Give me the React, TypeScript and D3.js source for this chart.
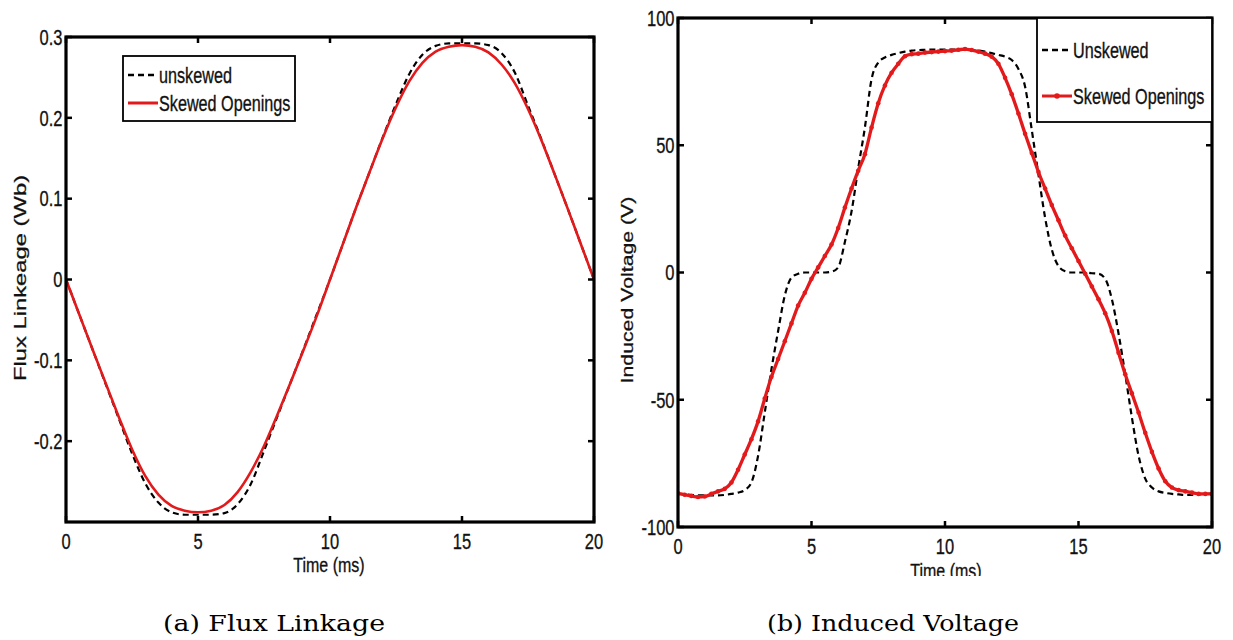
import React from "react";
import * as d3 from "d3";

const FLUX_STEP = 0.5;
const VOLT_STEP = 0.25;

// (a) flux linkage, Wb, t = 0..20 ms every 0.5 ms
const fluxUnskewed = [
  0, -0.043, -0.086, -0.129, -0.172, -0.215, -0.252, -0.276, -0.288, -0.291, -0.291,
  -0.291, -0.289, -0.278, -0.253, -0.212, -0.17, -0.128, -0.086, -0.043, 0,
  0.045, 0.09, 0.133, 0.176, 0.217, 0.254, 0.278, 0.289, 0.292, 0.292,
  0.292, 0.29, 0.28, 0.256, 0.215, 0.174, 0.131, 0.088, 0.044, 0,
];
const fluxSkewed = [
  0, -0.043, -0.086, -0.128, -0.17, -0.21, -0.243, -0.266, -0.28, -0.286, -0.288,
  -0.286, -0.279, -0.263, -0.238, -0.206, -0.168, -0.128, -0.087, -0.045, 0,
  0.045, 0.09, 0.133, 0.175, 0.213, 0.245, 0.268, 0.282, 0.288, 0.29,
  0.288, 0.281, 0.266, 0.243, 0.211, 0.173, 0.131, 0.088, 0.044, 0,
];

// (b) induced voltage, V, t = 0..20 ms every 0.25 ms
const voltUnskewed = [
  -87, -87.2, -87.4, -87.6, -87.6, -87.6, -87.6, -87.4, -87, -86.5, -85.5, -82.5,
  -72, -55, -38, -23, -9, -2, -0.5, 0, 0, 0, 0, 0.3,
  2, 12, 24, 41, 57, 76, 82.5, 84.5, 85.5, 86.2, 86.8, 87.2,
  87.4, 87.5, 87.6, 87.6, 87.6, 87.6, 87.6, 87.5, 87.4, 87.2, 86.8, 86.2,
  85.5, 84.8, 83.5, 80, 73, 56, 38.5, 21.5, 9, 2.5, 0.5, 0,
  0, 0, -0.3, -0.5, -2.5, -10.5, -24, -40, -57, -72, -81, -84.5,
  -86, -86.6, -87, -87.2, -87.4, -87.4, -87.2, -87, -87,
];
const voltSkewed = [
  -86.8, -87.3, -87.8, -88.2, -88, -87, -86, -85, -82.5, -77.5, -71.5, -65.5,
  -58.5, -49.5, -41, -34, -27, -20, -13, -8, -2.5, 2, 6.5, 11,
  17.5, 25.5, 33, 40, 46.5, 57, 66.5, 73.5, 78.5, 82, 85, 85.8,
  86, 86.4, 86.6, 86.8, 87, 87.2, 87.5, 87.8, 87.4, 86.8, 86, 84.8,
  82, 76.5, 70, 62.5, 54.5, 47, 39.5, 33, 26.5, 20.5, 14.5, 9.5,
  4.5, -0.5, -5.5, -10.5, -16, -23, -31.5, -40, -47.5, -55, -63, -70.5,
  -77, -82, -84.5, -85.5, -86, -86.5, -87, -87, -87,
];

const timeTicks = [0, 5, 10, 15, 20];
const fluxTicks = [-0.2, -0.1, 0, 0.1, 0.2, 0.3];
const fluxTickLabels = ["-0.2", "-0.1", "0", "0.1", "0.2", "0.3"];
const voltTicks = [-100, -50, 0, 50, 100];
const voltTickLabels = ["-100", "-50", "0", "50", "100"];
const legendA = ["unskewed", "Skewed Openings"];
const legendB = ["Unskewed", "Skewed Openings"];

const FONT = "'Liberation Sans', Arial, Helvetica, sans-serif";
const SERIF = "'DejaVu Serif', 'Liberation Serif', serif";
const RED = "#e31a1c";
const STRETCH = 1.32; // the figure was scaled taller than wide

const toPoints = (vals: number[], step: number) => vals.map((v, i) => [i * step, v] as [number, number]);

// text that carries the vertical stretch of the original picture
const Txt = ({ x, y, size, anchor = "start", rot = false, k = STRETCH, dy = 0, children }: any) => (
  <text
    transform={`translate(${x},${y})${rot ? " rotate(-90)" : ""} scale(${rot ? k : 1},${rot ? 1 : k})`}
    y={dy}
    textAnchor={anchor}
    fontSize={size}
    fontFamily={FONT}
    fill="#111"
    stroke="#111"
    strokeWidth={0.25}
  >
    {children}
  </text>
);

const Panel = ({ id, box, yDomain, yTicks, yLabels, dashed, solid, step, markers, legend, legendBox, yTitle, yTitlePos, xTitlePos, xClip }: any) => {
  const x = d3.scaleLinear().domain([0, 20]).range([box.left, box.right]);
  const y = d3.scaleLinear().domain(yDomain).range([box.bottom, box.top]);
  const line = d3
    .line<[number, number]>()
    .x((d) => x(d[0]))
    .y((d) => y(d[1]))
    .curve(d3.curveMonotoneX);
  const dashPts = toPoints(dashed, step);
  const solidPts = toPoints(solid, step);
  const tl = 6;

  return (
    <g>
      <defs>
        <clipPath id={`plot-${id}`}>
          <rect x={box.left} y={box.top} width={box.right - box.left} height={box.bottom - box.top} />
        </clipPath>
        {xClip && (
          <clipPath id={`xt-${id}`}>
            <rect x={box.left} y={box.bottom + 30} width={box.right - box.left} height={xClip - box.bottom - 30} />
          </clipPath>
        )}
      </defs>
      <rect x={box.left} y={box.top} width={box.right - box.left} height={box.bottom - box.top} fill="#fff" />

      <g clipPath={`url(#plot-${id})`}>
        <path d={line(dashPts) || ""} fill="none" stroke="#000" strokeWidth={2.2} strokeDasharray="6,4" />
        <path d={line(solidPts) || ""} fill="none" stroke={RED} strokeWidth={markers ? 3.3 : 2.6} />
        {markers &&
          solidPts.map((d, i) => <circle key={i} cx={x(d[0])} cy={y(d[1])} r={2.3} fill={RED} />)}
      </g>

      {/* ticks, inward on all four sides */}
      <g stroke="#000" strokeWidth={2.5}>
        {timeTicks.map((t) => (
          <g key={`xt${t}`}>
            <line x1={x(t)} x2={x(t)} y1={box.bottom} y2={box.bottom - tl} />
            <line x1={x(t)} x2={x(t)} y1={box.top} y2={box.top + tl} />
          </g>
        ))}
        {yTicks.map((v: number) => (
          <g key={`yt${v}`}>
            <line x1={box.left} x2={box.left + tl} y1={y(v)} y2={y(v)} />
            <line x1={box.right} x2={box.right - tl} y1={y(v)} y2={y(v)} />
          </g>
        ))}
      </g>
      <rect
        x={box.left}
        y={box.top}
        width={box.right - box.left}
        height={box.bottom - box.top}
        fill="none"
        stroke="#000"
        strokeWidth={3.2}
      />

      {timeTicks.map((t) => (
        <Txt key={`xl${t}`} x={x(t)} y={box.bottom + 27} size={16.5} anchor="middle">
          {t}
        </Txt>
      ))}
      {yTicks.map((v: number, i: number) => (
        <Txt key={`yl${v}`} x={box.left - 3.5} y={y(v)} size={16.5} anchor="end" dy={5.9}>
          {yLabels[i]}
        </Txt>
      ))}

      <g clipPath={xClip ? `url(#xt-${id})` : undefined}>
        <Txt x={xTitlePos[0]} y={xTitlePos[1]} size={16} anchor="middle">
          Time (ms)
        </Txt>
      </g>
      <Txt x={yTitlePos[0]} y={yTitlePos[1]} size={yTitlePos[2]} anchor="middle" rot k={yTitlePos[3]}>
        {yTitle}
      </Txt>

      {/* legend */}
      <g>
        <rect
          x={legendBox.x}
          y={legendBox.y}
          width={legendBox.w}
          height={legendBox.h}
          fill="#fff"
          stroke="#000"
          strokeWidth={1.8}
        />
        <line
          x1={legendBox.x + 5}
          x2={legendBox.x + 35}
          y1={legendBox.rows[0]}
          y2={legendBox.rows[0]}
          stroke="#000"
          strokeWidth={2.4}
          strokeDasharray="6,4"
        />
        <line
          x1={legendBox.x + 5}
          x2={legendBox.x + 35}
          y1={legendBox.rows[1]}
          y2={legendBox.rows[1]}
          stroke={RED}
          strokeWidth={3}
        />
        {markers && <circle cx={legendBox.x + 20} cy={legendBox.rows[1]} r={2.8} fill={RED} />}
        {legend.map((s: string, i: number) => (
          <Txt key={s} x={legendBox.x + 36} y={legendBox.rows[i]} size={16.2} dy={5.9} k={1.36}>
            {s}
          </Txt>
        ))}
      </g>
    </g>
  );
};

export default function App() {
  return (
    <svg width={1233} height={640} style={{ position: "absolute", left: 0, top: 0, background: "#fff" }}>
      <rect width={1233} height={640} fill="#fff" />
      <Panel
        id="a"
        box={{ left: 66, right: 594, top: 37, bottom: 522 }}
        yDomain={[-0.3, 0.3]}
        yTicks={fluxTicks}
        yLabels={fluxTickLabels}
        dashed={fluxUnskewed}
        solid={fluxSkewed}
        step={FLUX_STEP}
        markers={false}
        legend={legendA}
        legendBox={{ x: 123, y: 56, w: 172, h: 65, rows: [75, 103] }}
        yTitle="Flux Linkeage (Wb)"
        yTitlePos={[26, 278, 17, 1.4]}
        xTitlePos={[329, 572]}
      />
      <Panel
        id="b"
        box={{ left: 678, right: 1212, top: 18, bottom: 527 }}
        yDomain={[-100, 100]}
        yTicks={voltTicks}
        yLabels={voltTickLabels}
        dashed={voltUnskewed}
        solid={voltSkewed}
        step={VOLT_STEP}
        markers={true}
        legend={legendB}
        legendBox={{ x: 1037, y: 18, w: 175, h: 104, rows: [50, 96] }}
        yTitle="Induced Voltage (V)"
        yTitlePos={[633, 290, 16, 1.33]}
        xTitlePos={[946, 578]}
        xClip={576}
      />
      <text x={163} y={631} fontFamily={SERIF} fontSize={23} textLength={222} lengthAdjust="spacingAndGlyphs">
        (a) Flux Linkage
      </text>
      <text x={767} y={631} fontFamily={SERIF} fontSize={23} textLength={252} lengthAdjust="spacingAndGlyphs">
        (b) Induced Voltage
      </text>
    </svg>
  );
}
